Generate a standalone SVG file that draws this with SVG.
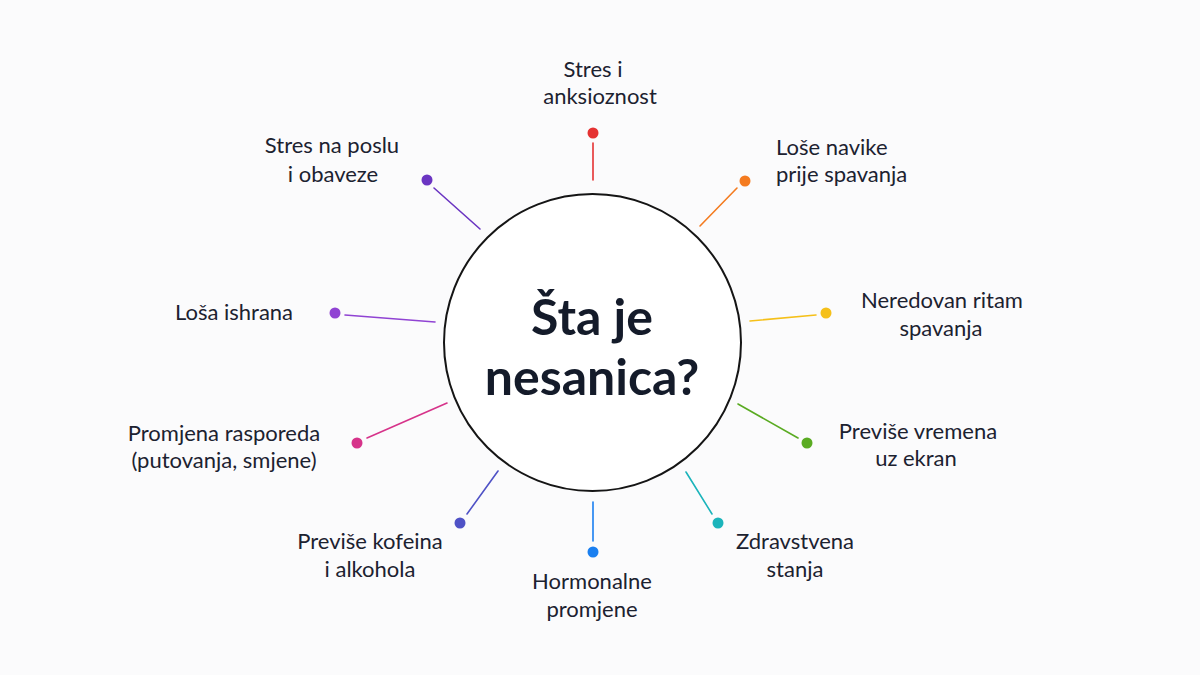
<svg xmlns="http://www.w3.org/2000/svg" width="1200" height="675" viewBox="0 0 1200 675">
<style>
.lbl{font-family:Lato,"Noto Sans","Liberation Sans",sans-serif;font-size:22px;fill:#1c2230}
.c{text-anchor:middle}
.title{font-family:Lato,"Noto Sans","Liberation Sans",sans-serif;font-size:50px;font-weight:700;fill:#141b2a;text-anchor:middle}
.ln{stroke-width:1.6;fill:none;stroke-linecap:round}
</style>
<rect width="1200" height="675" fill="#fbfbfc"/>
<g id="center">
<circle cx="592.5" cy="342.5" r="148.5" fill="#ffffff" stroke="#151515" stroke-width="2"/>
<text class="title" x="592" y="335">Šta je</text>
<text class="title" x="592" y="395">nesanica?</text>
</g>
<g id="connectors">
<line class="ln" stroke="#e53232" x1="593" y1="143" x2="593" y2="180"/>
<line class="ln" stroke="#6b35c2" x1="434" y1="188" x2="480" y2="229"/>
<line class="ln" stroke="#f47b20" x1="737" y1="188" x2="700" y2="226"/>
<line class="ln" stroke="#f5c01a" x1="816" y1="315" x2="750" y2="321"/>
<line class="ln" stroke="#9043d3" x1="345" y1="315" x2="435" y2="322"/>
<line class="ln" stroke="#d6338a" x1="367" y1="438" x2="447" y2="403"/>
<line class="ln" stroke="#5aab22" x1="798" y1="438" x2="738" y2="404"/>
<line class="ln" stroke="#4f52c6" x1="467" y1="514" x2="498" y2="471"/>
<line class="ln" stroke="#1a7ff0" x1="593" y1="502" x2="593" y2="541"/>
<line class="ln" stroke="#1bb4bb" x1="712" y1="514" x2="686" y2="472"/>
</g>
<g id="n1"><circle cx="593" cy="133" r="5.5" fill="#e53232"/>
<text class="lbl c" x="593" y="77">Stres i</text><text class="lbl c" x="600" y="104">anksioznost</text></g>
<g id="n2"><circle cx="427" cy="180" r="5.5" fill="#6b35c2"/>
<text class="lbl c" x="332" y="153">Stres na poslu</text><text class="lbl c" x="333" y="182">i obaveze</text></g>
<g id="n3"><circle cx="745" cy="181" r="5.5" fill="#f47b20"/>
<text class="lbl" x="776" y="155">Loše navike</text><text class="lbl" x="776" y="182">prije spavanja</text></g>
<g id="n4"><circle cx="826" cy="313" r="5.5" fill="#f5c01a"/>
<text class="lbl c" x="942" y="308">Neredovan ritam</text><text class="lbl c" x="941" y="336">spavanja</text></g>
<g id="n5"><circle cx="335" cy="313" r="5.5" fill="#9043d3"/>
<text class="lbl c" x="234" y="320">Loša ishrana</text></g>
<g id="n6"><circle cx="357" cy="443" r="5.5" fill="#d6338a"/>
<text class="lbl c" x="224" y="441">Promjena rasporeda</text><text class="lbl c" x="224" y="468">(putovanja, smjene)</text></g>
<g id="n7"><circle cx="807" cy="443" r="5.5" fill="#5aab22"/>
<text class="lbl c" x="918" y="439">Previše vremena</text><text class="lbl c" x="916" y="466">uz ekran</text></g>
<g id="n8"><circle cx="460" cy="523" r="5.5" fill="#4f52c6"/>
<text class="lbl c" x="370" y="549">Previše kofeina</text><text class="lbl c" x="370" y="577">i alkohola</text></g>
<g id="n9"><circle cx="593" cy="552" r="5.5" fill="#1a7ff0"/>
<text class="lbl c" x="592" y="589">Hormonalne</text><text class="lbl c" x="592" y="617">promjene</text></g>
<g id="n10"><circle cx="718" cy="523" r="5.5" fill="#1bb4bb"/>
<text class="lbl c" x="795" y="549">Zdravstvena</text><text class="lbl c" x="795" y="577">stanja</text></g>
</svg>
